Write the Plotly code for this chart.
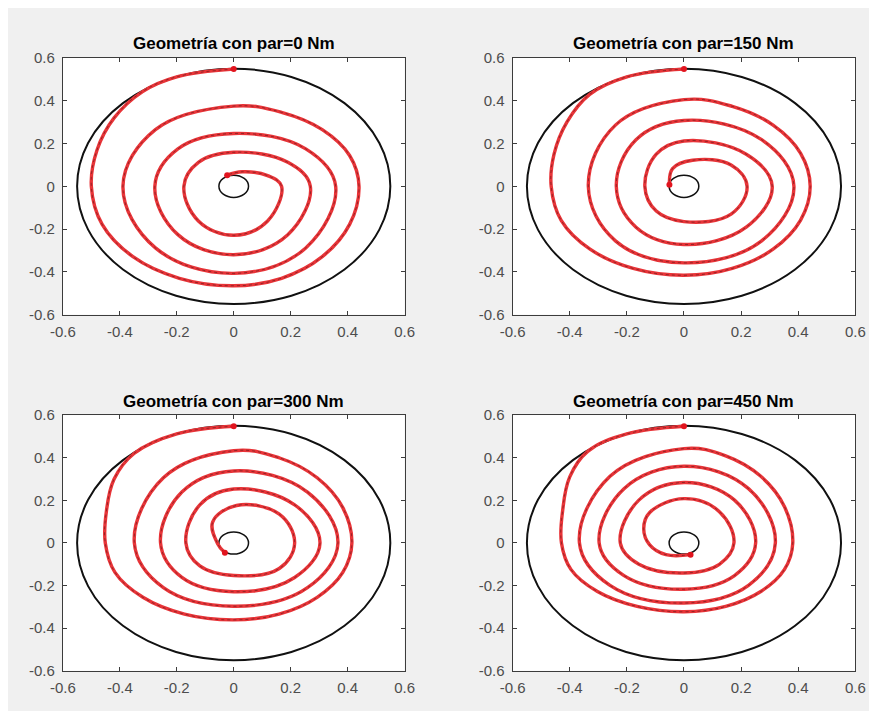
import plotly.graph_objects as go

# ---------------- data ----------------
titles = ["Geometría con par=0 Nm", "Geometría con par=150 Nm",
          "Geometría con par=300 Nm", "Geometría con par=450 Nm"]
tick_vals = [-0.6, -0.4, -0.2, 0, 0.2, 0.4, 0.6]
tick_text = ["-0.6", "-0.4", "-0.2", "0", "0.2", "0.4", "0.6"]
outer_radius = 0.55
inner_radius = 0.052

# par = 0 Nm
spiral0_x = [0.0, -0.20, -0.32, -0.42, -0.48, -0.50, -0.462, -0.354, -0.191, 0.0, 0.168,
             0.311, 0.407, 0.44, 0.407, 0.311, 0.168, 0.0,
             -0.275, -0.389, -0.275, 0.0, 0.253, 0.358, 0.253, 0.0, -0.196, -0.277, -0.196,
             0.0, 0.19, 0.269, 0.19, 0.0, -0.124, -0.175, -0.124, 0.0, 0.119, 0.168, 0.119,
             0.03, -0.023]
spiral0_y = [0.548, 0.512, 0.443, 0.32, 0.17, 0.0, -0.178, -0.329, -0.43, -0.465, -0.43,
             -0.329, -0.178, 0.0, 0.144, 0.265, 0.346, 0.375,
             0.265, 0.0, -0.288, -0.407, -0.288, 0.0, 0.175, 0.247, 0.175, 0.0, -0.226,
             -0.32, -0.226, 0.0, 0.112, 0.159, 0.112, 0.0, -0.162, -0.229, -0.162, 0.0, 0.05,
             0.068, 0.052]

# par = 150 Nm
spiral1_x = [0.0, -0.20, -0.33, -0.41, -0.455, -0.465, -0.43, -0.329, -0.178, 0.0, 0.169,
             0.312, 0.408, 0.442, 0.408, 0.312, 0.169, 0.0,
             -0.24, -0.335, -0.24, 0.0, 0.272, 0.385, 0.272, 0.0, -0.168, -0.237, -0.168, 0.0,
             0.218, 0.309, 0.218, 0.0, -0.097, -0.137, -0.097, 0.0, 0.165, 0.221, 0.165, 0.03,
             -0.04, -0.051]
spiral1_y = [0.548, 0.512, 0.43, 0.30, 0.15, 0.0, -0.159, -0.294, -0.384, -0.416, -0.384,
             -0.294, -0.159, 0.0, 0.155, 0.286, 0.374, 0.405,
             0.286, 0.0, -0.255, -0.358, -0.255, 0.0, 0.218, 0.308, 0.218, 0.0, -0.191, -0.272,
             -0.191, 0.0, 0.15, 0.212, 0.15, 0.0, -0.116, -0.165, -0.13, 0.0, 0.1, 0.122,
             0.083, 0.007]

# par = 300 Nm
spiral2_x = [0.0, -0.20, -0.35, -0.42, -0.447, -0.451, -0.417, -0.319, -0.173, 0.0, 0.159,
             0.293, 0.383, 0.415, 0.383, 0.293, 0.159, 0.0,
             -0.247, -0.349, -0.247, 0.0, 0.259, 0.366, 0.259, 0.0, -0.182, -0.257, -0.182,
             0.0, 0.214, 0.303, 0.214, 0.0, -0.119, -0.168, -0.119, 0.0, 0.16, 0.214, 0.16,
             0.01, -0.074, -0.057, -0.031]
spiral2_y = [0.548, 0.512, 0.42, 0.30, 0.15, 0.0, -0.138, -0.255, -0.334, -0.361, -0.334,
             -0.255, -0.138, 0.0, 0.166, 0.306, 0.40, 0.433,
             0.306, 0.0, -0.21, -0.297, -0.21, 0.0, 0.239, 0.338, 0.239, 0.0, -0.162, -0.229,
             -0.162, 0.0, 0.179, 0.253, 0.179, 0.0, -0.108, -0.153, -0.12, 0.0, 0.135, 0.176,
             0.098, -0.002, -0.046]

# par = 450 Nm
spiral3_x = [0.0, -0.20, -0.337, -0.40, -0.425, -0.429, -0.396, -0.303, -0.164, 0.0, 0.146,
             0.269, 0.352, 0.381, 0.352, 0.269, 0.146, 0.0,
             -0.259, -0.366, -0.259, 0.0, 0.226, 0.32, 0.226, 0.0, -0.21, -0.297, -0.21, 0.0,
             0.177, 0.251, 0.177, 0.0, -0.158, -0.223, -0.158, 0.0, 0.124, 0.175, 0.124, 0.0,
             -0.12, -0.141, -0.12, -0.063, 0.023]
spiral3_y = [0.548, 0.512, 0.43, 0.31, 0.15, 0.0, -0.124, -0.228, -0.298, -0.323, -0.298,
             -0.228, -0.124, 0.0, 0.17, 0.313, 0.409, 0.443,
             0.313, 0.0, -0.199, -0.282, -0.199, 0.0, 0.255, 0.36, 0.255, 0.0, -0.153, -0.217,
             -0.153, 0.0, 0.201, 0.284, 0.201, 0.0, -0.1, -0.141, -0.1, 0.0, 0.147, 0.208,
             0.143, 0.067, -0.009, -0.055, -0.055]

spirals = [(spiral0_x, spiral0_y), (spiral1_x, spiral1_y),
           (spiral2_x, spiral2_y), (spiral3_x, spiral3_y)]

# ---------------- layout geometry ----------------
# The page body keeps its default 8 px margin, so the figure starts at (8, 8) of the window.
PAGE_W, PAGE_H, BODY = 877, 711, 8
W, H = PAGE_W - BODY, PAGE_H - BODY
col_px = [(51, 402), (513, 865)]      # window pixels
row_px = [(50, 313), (416, 678)]
title_y_px = [35, 402]

RED = "rgb(232,52,56)"
AX = "#3c3c3c"
FONT = "Liberation Sans, Arial, sans-serif"
SMOOTH = 1.1

fig = go.Figure()
shapes = []
annotations = []

for i, (sx, sy) in enumerate(spirals):
    r, c = divmod(i, 2)
    suffix = "" if i == 0 else str(i + 1)
    xa, ya = "x" + suffix, "y" + suffix
    fig.add_trace(go.Scatter(x=sx, y=sy, mode="lines", xaxis=xa, yaxis=ya,
                             line=dict(color=RED, width=3.4, shape="spline", smoothing=SMOOTH),
                             hoverinfo="skip", showlegend=False))
    fig.add_trace(go.Scatter(x=sx, y=sy, mode="lines", xaxis=xa, yaxis=ya,
                             line=dict(color="rgba(70,20,20,0.5)", width=1, shape="spline",
                                       smoothing=SMOOTH, dash="dot"),
                             hoverinfo="skip", showlegend=False))
    fig.add_trace(go.Scatter(x=[sx[0], sx[-1]], y=[sy[0], sy[-1]], mode="markers",
                             xaxis=xa, yaxis=ya,
                             marker=dict(color="rgb(225,20,30)", size=6),
                             hoverinfo="skip", showlegend=False))
    for rad, lw in ((outer_radius, 2), (inner_radius, 1.5)):
        shapes.append(dict(type="circle", xref=xa, yref=ya, x0=-rad, x1=rad, y0=-rad, y1=rad,
                           line=dict(color="#111111", width=lw), layer="below"))

    x0p, x1p = (v - BODY for v in col_px[c])
    y0p, y1p = (v - BODY for v in row_px[r])
    axis_common = dict(range=[-0.6, 0.6], tickmode="array", tickvals=tick_vals, ticktext=tick_text,
                       ticks="inside", ticklen=4, tickcolor=AX, tickwidth=1,
                       showline=True, linecolor=AX, linewidth=1, mirror="allticks",
                       showgrid=False, zeroline=False, fixedrange=True,
                       tickfont=dict(family=FONT, size=15, color="#4d4d4d"))
    fig.update_layout(**{
        "xaxis" + suffix: dict(domain=[x0p / W, x1p / W], anchor=ya, ticklabelstandoff=3,
                               **axis_common),
        "yaxis" + suffix: dict(domain=[1 - y1p / H, 1 - y0p / H], anchor=xa, ticklabelstandoff=4,
                               **axis_common),
    })
    annotations.append(dict(text="<b>" + titles[i] + "</b>", xref="paper", yref="paper",
                            x=(x0p + x1p) / 2 / W, y=1 - (title_y_px[r] - BODY) / H,
                            xanchor="center", yanchor="middle", showarrow=False,
                            font=dict(family=FONT, size=17, color="#000000")))

fig.update_layout(width=W, height=H, autosize=False,
                  margin=dict(l=0, r=0, t=0, b=0),
                  paper_bgcolor="#f0f0f0", plot_bgcolor="white",
                  shapes=shapes, annotations=annotations, showlegend=False)

fig.write_html("out.html")
